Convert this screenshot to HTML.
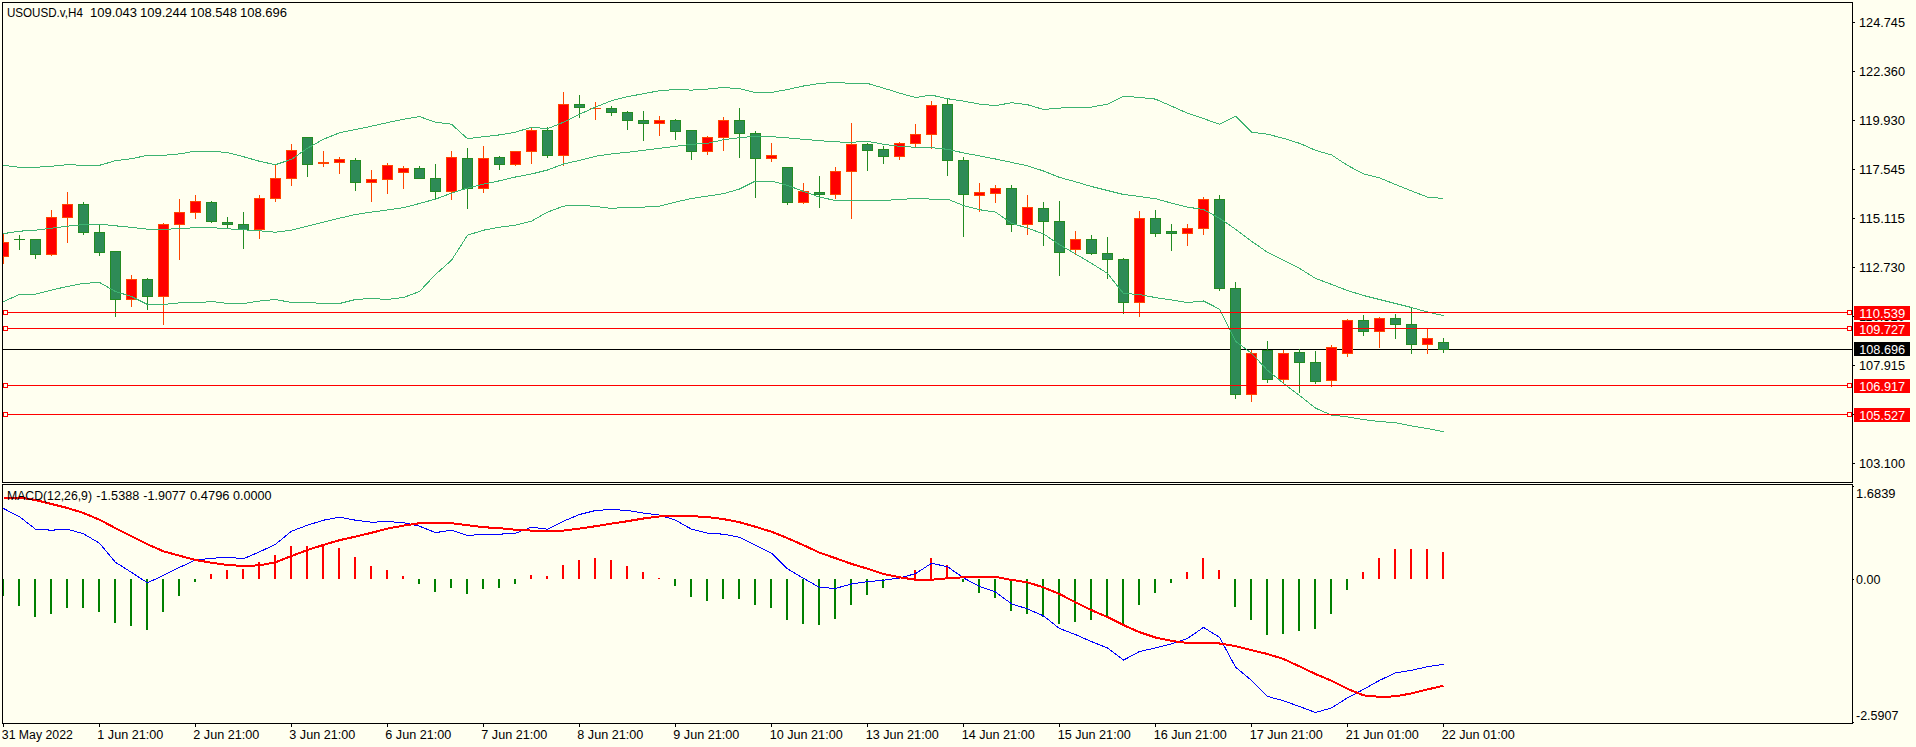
<!DOCTYPE html><html><head><meta charset="utf-8"><title>USOUSD.v,H4</title>
<style>html,body{margin:0;padding:0;background:#FFFFF0;overflow:hidden}svg{display:block}text{font-family:"Liberation Sans",sans-serif;font-size:12.5px;fill:#000}</style></head><body>
<svg width="1916" height="747" viewBox="0 0 1916 747">
<rect width="1916" height="747" fill="#FFFFF0"/>
<defs><clipPath id="cm"><rect x="3" y="3" width="1849" height="479"/></clipPath><clipPath id="ci"><rect x="3" y="485" width="1849" height="238"/></clipPath></defs>
<g clip-path="url(#cm)" shape-rendering="crispEdges">
<rect x="3" y="349" width="1849" height="1" fill="#000"/>
<rect x="3" y="234" width="1" height="30" fill="#FF4500"/>
<rect x="-2" y="242" width="11" height="15" fill="#FF4500"/>
<rect x="-1" y="243" width="9" height="13" fill="#FF0000"/>
<rect x="19" y="235" width="1" height="15" fill="#228B22"/>
<rect x="14" y="239" width="11" height="1" fill="#228B22"/>
<rect x="35" y="239" width="1" height="20" fill="#228B22"/>
<rect x="30" y="239" width="11" height="16" fill="#228B22"/>
<rect x="31" y="240" width="9" height="14" fill="#2E8B57"/>
<rect x="51" y="210" width="1" height="46" fill="#FF4500"/>
<rect x="46" y="217" width="11" height="38" fill="#FF4500"/>
<rect x="47" y="218" width="9" height="36" fill="#FF0000"/>
<rect x="67" y="192" width="1" height="51" fill="#FF4500"/>
<rect x="62" y="204" width="11" height="14" fill="#FF4500"/>
<rect x="63" y="205" width="9" height="12" fill="#FF0000"/>
<rect x="83" y="202" width="1" height="33" fill="#228B22"/>
<rect x="78" y="204" width="11" height="29" fill="#228B22"/>
<rect x="79" y="205" width="9" height="27" fill="#2E8B57"/>
<rect x="99" y="225" width="1" height="31" fill="#228B22"/>
<rect x="94" y="232" width="11" height="21" fill="#228B22"/>
<rect x="95" y="233" width="9" height="19" fill="#2E8B57"/>
<rect x="115" y="251" width="1" height="66" fill="#228B22"/>
<rect x="110" y="251" width="11" height="49" fill="#228B22"/>
<rect x="111" y="252" width="9" height="47" fill="#2E8B57"/>
<rect x="131" y="275" width="1" height="32" fill="#FF4500"/>
<rect x="126" y="279" width="11" height="21" fill="#FF4500"/>
<rect x="127" y="280" width="9" height="19" fill="#FF0000"/>
<rect x="147" y="278" width="1" height="32" fill="#228B22"/>
<rect x="142" y="279" width="11" height="18" fill="#228B22"/>
<rect x="143" y="280" width="9" height="16" fill="#2E8B57"/>
<rect x="163" y="223" width="1" height="102" fill="#FF4500"/>
<rect x="158" y="224" width="11" height="73" fill="#FF4500"/>
<rect x="159" y="225" width="9" height="71" fill="#FF0000"/>
<rect x="179" y="199" width="1" height="61" fill="#FF4500"/>
<rect x="174" y="212" width="11" height="13" fill="#FF4500"/>
<rect x="175" y="213" width="9" height="11" fill="#FF0000"/>
<rect x="195" y="195" width="1" height="24" fill="#FF4500"/>
<rect x="190" y="201" width="11" height="12" fill="#FF4500"/>
<rect x="191" y="202" width="9" height="10" fill="#FF0000"/>
<rect x="211" y="201" width="1" height="22" fill="#228B22"/>
<rect x="206" y="202" width="11" height="20" fill="#228B22"/>
<rect x="207" y="203" width="9" height="18" fill="#2E8B57"/>
<rect x="227" y="217" width="1" height="11" fill="#228B22"/>
<rect x="222" y="222" width="11" height="3" fill="#228B22"/>
<rect x="223" y="223" width="9" height="1" fill="#2E8B57"/>
<rect x="243" y="212" width="1" height="37" fill="#228B22"/>
<rect x="238" y="224" width="11" height="6" fill="#228B22"/>
<rect x="239" y="225" width="9" height="4" fill="#2E8B57"/>
<rect x="259" y="195" width="1" height="44" fill="#FF4500"/>
<rect x="254" y="198" width="11" height="32" fill="#FF4500"/>
<rect x="255" y="199" width="9" height="30" fill="#FF0000"/>
<rect x="275" y="165" width="1" height="37" fill="#FF4500"/>
<rect x="270" y="178" width="11" height="21" fill="#FF4500"/>
<rect x="271" y="179" width="9" height="19" fill="#FF0000"/>
<rect x="291" y="144" width="1" height="42" fill="#FF4500"/>
<rect x="286" y="150" width="11" height="29" fill="#FF4500"/>
<rect x="287" y="151" width="9" height="27" fill="#FF0000"/>
<rect x="307" y="137" width="1" height="40" fill="#228B22"/>
<rect x="302" y="137" width="11" height="28" fill="#228B22"/>
<rect x="303" y="138" width="9" height="26" fill="#2E8B57"/>
<rect x="323" y="151" width="1" height="16" fill="#FF4500"/>
<rect x="318" y="162" width="11" height="2" fill="#FF4500"/>
<rect x="339" y="157" width="1" height="17" fill="#FF4500"/>
<rect x="334" y="159" width="11" height="4" fill="#FF4500"/>
<rect x="335" y="160" width="9" height="2" fill="#FF0000"/>
<rect x="355" y="158" width="1" height="33" fill="#228B22"/>
<rect x="350" y="160" width="11" height="23" fill="#228B22"/>
<rect x="351" y="161" width="9" height="21" fill="#2E8B57"/>
<rect x="371" y="170" width="1" height="32" fill="#FF4500"/>
<rect x="366" y="179" width="11" height="4" fill="#FF4500"/>
<rect x="367" y="180" width="9" height="2" fill="#FF0000"/>
<rect x="387" y="163" width="1" height="31" fill="#FF4500"/>
<rect x="382" y="165" width="11" height="15" fill="#FF4500"/>
<rect x="383" y="166" width="9" height="13" fill="#FF0000"/>
<rect x="403" y="166" width="1" height="23" fill="#FF4500"/>
<rect x="398" y="168" width="11" height="5" fill="#FF4500"/>
<rect x="399" y="169" width="9" height="3" fill="#FF0000"/>
<rect x="419" y="166" width="1" height="13" fill="#228B22"/>
<rect x="414" y="168" width="11" height="11" fill="#228B22"/>
<rect x="415" y="169" width="9" height="9" fill="#2E8B57"/>
<rect x="435" y="164" width="1" height="36" fill="#228B22"/>
<rect x="430" y="178" width="11" height="14" fill="#228B22"/>
<rect x="431" y="179" width="9" height="12" fill="#2E8B57"/>
<rect x="451" y="151" width="1" height="49" fill="#FF4500"/>
<rect x="446" y="157" width="11" height="35" fill="#FF4500"/>
<rect x="447" y="158" width="9" height="33" fill="#FF0000"/>
<rect x="467" y="148" width="1" height="61" fill="#228B22"/>
<rect x="462" y="158" width="11" height="31" fill="#228B22"/>
<rect x="463" y="159" width="9" height="29" fill="#2E8B57"/>
<rect x="483" y="146" width="1" height="47" fill="#FF4500"/>
<rect x="478" y="158" width="11" height="31" fill="#FF4500"/>
<rect x="479" y="159" width="9" height="29" fill="#FF0000"/>
<rect x="499" y="156" width="1" height="14" fill="#228B22"/>
<rect x="494" y="157" width="11" height="8" fill="#228B22"/>
<rect x="495" y="158" width="9" height="6" fill="#2E8B57"/>
<rect x="515" y="151" width="1" height="15" fill="#FF4500"/>
<rect x="510" y="151" width="11" height="14" fill="#FF4500"/>
<rect x="511" y="152" width="9" height="12" fill="#FF0000"/>
<rect x="531" y="127" width="1" height="37" fill="#FF4500"/>
<rect x="526" y="130" width="11" height="22" fill="#FF4500"/>
<rect x="527" y="131" width="9" height="20" fill="#FF0000"/>
<rect x="547" y="127" width="1" height="31" fill="#228B22"/>
<rect x="542" y="130" width="11" height="26" fill="#228B22"/>
<rect x="543" y="131" width="9" height="24" fill="#2E8B57"/>
<rect x="563" y="92" width="1" height="74" fill="#FF4500"/>
<rect x="558" y="104" width="11" height="52" fill="#FF4500"/>
<rect x="559" y="105" width="9" height="50" fill="#FF0000"/>
<rect x="579" y="95" width="1" height="23" fill="#228B22"/>
<rect x="574" y="104" width="11" height="4" fill="#228B22"/>
<rect x="575" y="105" width="9" height="2" fill="#2E8B57"/>
<rect x="595" y="102" width="1" height="18" fill="#FF4500"/>
<rect x="590" y="108" width="11" height="1" fill="#FF4500"/>
<rect x="611" y="106" width="1" height="10" fill="#228B22"/>
<rect x="606" y="108" width="11" height="5" fill="#228B22"/>
<rect x="607" y="109" width="9" height="3" fill="#2E8B57"/>
<rect x="627" y="111" width="1" height="19" fill="#228B22"/>
<rect x="622" y="112" width="11" height="9" fill="#228B22"/>
<rect x="623" y="113" width="9" height="7" fill="#2E8B57"/>
<rect x="643" y="111" width="1" height="30" fill="#228B22"/>
<rect x="638" y="120" width="11" height="4" fill="#228B22"/>
<rect x="639" y="121" width="9" height="2" fill="#2E8B57"/>
<rect x="659" y="116" width="1" height="20" fill="#FF4500"/>
<rect x="654" y="120" width="11" height="4" fill="#FF4500"/>
<rect x="655" y="121" width="9" height="2" fill="#FF0000"/>
<rect x="675" y="119" width="1" height="21" fill="#228B22"/>
<rect x="670" y="120" width="11" height="12" fill="#228B22"/>
<rect x="671" y="121" width="9" height="10" fill="#2E8B57"/>
<rect x="691" y="130" width="1" height="30" fill="#228B22"/>
<rect x="686" y="130" width="11" height="22" fill="#228B22"/>
<rect x="687" y="131" width="9" height="20" fill="#2E8B57"/>
<rect x="707" y="136" width="1" height="19" fill="#FF4500"/>
<rect x="702" y="137" width="11" height="15" fill="#FF4500"/>
<rect x="703" y="138" width="9" height="13" fill="#FF0000"/>
<rect x="723" y="117" width="1" height="34" fill="#FF4500"/>
<rect x="718" y="120" width="11" height="18" fill="#FF4500"/>
<rect x="719" y="121" width="9" height="16" fill="#FF0000"/>
<rect x="739" y="108" width="1" height="50" fill="#228B22"/>
<rect x="734" y="120" width="11" height="14" fill="#228B22"/>
<rect x="735" y="121" width="9" height="12" fill="#2E8B57"/>
<rect x="755" y="131" width="1" height="67" fill="#228B22"/>
<rect x="750" y="133" width="11" height="26" fill="#228B22"/>
<rect x="751" y="134" width="9" height="24" fill="#2E8B57"/>
<rect x="771" y="143" width="1" height="19" fill="#FF4500"/>
<rect x="766" y="155" width="11" height="4" fill="#FF4500"/>
<rect x="767" y="156" width="9" height="2" fill="#FF0000"/>
<rect x="787" y="167" width="1" height="38" fill="#228B22"/>
<rect x="782" y="167" width="11" height="36" fill="#228B22"/>
<rect x="783" y="168" width="9" height="34" fill="#2E8B57"/>
<rect x="803" y="183" width="1" height="21" fill="#FF4500"/>
<rect x="798" y="191" width="11" height="12" fill="#FF4500"/>
<rect x="799" y="192" width="9" height="10" fill="#FF0000"/>
<rect x="819" y="176" width="1" height="32" fill="#228B22"/>
<rect x="814" y="192" width="11" height="3" fill="#228B22"/>
<rect x="815" y="193" width="9" height="1" fill="#2E8B57"/>
<rect x="835" y="167" width="1" height="32" fill="#FF4500"/>
<rect x="830" y="171" width="11" height="24" fill="#FF4500"/>
<rect x="831" y="172" width="9" height="22" fill="#FF0000"/>
<rect x="851" y="123" width="1" height="96" fill="#FF4500"/>
<rect x="846" y="144" width="11" height="28" fill="#FF4500"/>
<rect x="847" y="145" width="9" height="26" fill="#FF0000"/>
<rect x="867" y="143" width="1" height="28" fill="#228B22"/>
<rect x="862" y="144" width="11" height="7" fill="#228B22"/>
<rect x="863" y="145" width="9" height="5" fill="#2E8B57"/>
<rect x="883" y="146" width="1" height="18" fill="#228B22"/>
<rect x="878" y="149" width="11" height="8" fill="#228B22"/>
<rect x="879" y="150" width="9" height="6" fill="#2E8B57"/>
<rect x="899" y="142" width="1" height="18" fill="#FF4500"/>
<rect x="894" y="143" width="11" height="14" fill="#FF4500"/>
<rect x="895" y="144" width="9" height="12" fill="#FF0000"/>
<rect x="915" y="124" width="1" height="23" fill="#FF4500"/>
<rect x="910" y="134" width="11" height="10" fill="#FF4500"/>
<rect x="911" y="135" width="9" height="8" fill="#FF0000"/>
<rect x="931" y="101" width="1" height="48" fill="#FF4500"/>
<rect x="926" y="105" width="11" height="30" fill="#FF4500"/>
<rect x="927" y="106" width="9" height="28" fill="#FF0000"/>
<rect x="947" y="99" width="1" height="77" fill="#228B22"/>
<rect x="942" y="104" width="11" height="57" fill="#228B22"/>
<rect x="943" y="105" width="9" height="55" fill="#2E8B57"/>
<rect x="963" y="157" width="1" height="80" fill="#228B22"/>
<rect x="958" y="160" width="11" height="35" fill="#228B22"/>
<rect x="959" y="161" width="9" height="33" fill="#2E8B57"/>
<rect x="979" y="183" width="1" height="29" fill="#FF4500"/>
<rect x="974" y="192" width="11" height="4" fill="#FF4500"/>
<rect x="975" y="193" width="9" height="2" fill="#FF0000"/>
<rect x="995" y="185" width="1" height="18" fill="#FF4500"/>
<rect x="990" y="188" width="11" height="6" fill="#FF4500"/>
<rect x="991" y="189" width="9" height="4" fill="#FF0000"/>
<rect x="1011" y="185" width="1" height="47" fill="#228B22"/>
<rect x="1006" y="188" width="11" height="37" fill="#228B22"/>
<rect x="1007" y="189" width="9" height="35" fill="#2E8B57"/>
<rect x="1027" y="195" width="1" height="40" fill="#FF4500"/>
<rect x="1022" y="207" width="11" height="18" fill="#FF4500"/>
<rect x="1023" y="208" width="9" height="16" fill="#FF0000"/>
<rect x="1043" y="202" width="1" height="44" fill="#228B22"/>
<rect x="1038" y="208" width="11" height="14" fill="#228B22"/>
<rect x="1039" y="209" width="9" height="12" fill="#2E8B57"/>
<rect x="1059" y="201" width="1" height="75" fill="#228B22"/>
<rect x="1054" y="221" width="11" height="32" fill="#228B22"/>
<rect x="1055" y="222" width="9" height="30" fill="#2E8B57"/>
<rect x="1075" y="231" width="1" height="24" fill="#FF4500"/>
<rect x="1070" y="239" width="11" height="11" fill="#FF4500"/>
<rect x="1071" y="240" width="9" height="9" fill="#FF0000"/>
<rect x="1091" y="235" width="1" height="20" fill="#228B22"/>
<rect x="1086" y="239" width="11" height="15" fill="#228B22"/>
<rect x="1087" y="240" width="9" height="13" fill="#2E8B57"/>
<rect x="1107" y="237" width="1" height="42" fill="#228B22"/>
<rect x="1102" y="253" width="11" height="7" fill="#228B22"/>
<rect x="1103" y="254" width="9" height="5" fill="#2E8B57"/>
<rect x="1123" y="258" width="1" height="56" fill="#228B22"/>
<rect x="1118" y="259" width="11" height="44" fill="#228B22"/>
<rect x="1119" y="260" width="9" height="42" fill="#2E8B57"/>
<rect x="1139" y="211" width="1" height="106" fill="#FF4500"/>
<rect x="1134" y="218" width="11" height="85" fill="#FF4500"/>
<rect x="1135" y="219" width="9" height="83" fill="#FF0000"/>
<rect x="1155" y="210" width="1" height="27" fill="#228B22"/>
<rect x="1150" y="218" width="11" height="16" fill="#228B22"/>
<rect x="1151" y="219" width="9" height="14" fill="#2E8B57"/>
<rect x="1171" y="224" width="1" height="27" fill="#228B22"/>
<rect x="1166" y="231" width="11" height="3" fill="#228B22"/>
<rect x="1167" y="232" width="9" height="1" fill="#2E8B57"/>
<rect x="1187" y="224" width="1" height="22" fill="#FF4500"/>
<rect x="1182" y="228" width="11" height="6" fill="#FF4500"/>
<rect x="1183" y="229" width="9" height="4" fill="#FF0000"/>
<rect x="1203" y="197" width="1" height="38" fill="#FF4500"/>
<rect x="1198" y="199" width="11" height="30" fill="#FF4500"/>
<rect x="1199" y="200" width="9" height="28" fill="#FF0000"/>
<rect x="1219" y="195" width="1" height="96" fill="#228B22"/>
<rect x="1214" y="199" width="11" height="90" fill="#228B22"/>
<rect x="1215" y="200" width="9" height="88" fill="#2E8B57"/>
<rect x="1235" y="282" width="1" height="117" fill="#228B22"/>
<rect x="1230" y="288" width="11" height="107" fill="#228B22"/>
<rect x="1231" y="289" width="9" height="105" fill="#2E8B57"/>
<rect x="1251" y="350" width="1" height="52" fill="#FF4500"/>
<rect x="1246" y="353" width="11" height="42" fill="#FF4500"/>
<rect x="1247" y="354" width="9" height="40" fill="#FF0000"/>
<rect x="1267" y="341" width="1" height="42" fill="#228B22"/>
<rect x="1262" y="350" width="11" height="30" fill="#228B22"/>
<rect x="1263" y="351" width="9" height="28" fill="#2E8B57"/>
<rect x="1283" y="350" width="1" height="34" fill="#FF4500"/>
<rect x="1278" y="353" width="11" height="27" fill="#FF4500"/>
<rect x="1279" y="354" width="9" height="25" fill="#FF0000"/>
<rect x="1299" y="349" width="1" height="44" fill="#228B22"/>
<rect x="1294" y="352" width="11" height="11" fill="#228B22"/>
<rect x="1295" y="353" width="9" height="9" fill="#2E8B57"/>
<rect x="1315" y="351" width="1" height="33" fill="#228B22"/>
<rect x="1310" y="362" width="11" height="20" fill="#228B22"/>
<rect x="1311" y="363" width="9" height="18" fill="#2E8B57"/>
<rect x="1331" y="345" width="1" height="42" fill="#FF4500"/>
<rect x="1326" y="347" width="11" height="34" fill="#FF4500"/>
<rect x="1327" y="348" width="9" height="32" fill="#FF0000"/>
<rect x="1347" y="319" width="1" height="38" fill="#FF4500"/>
<rect x="1342" y="320" width="11" height="34" fill="#FF4500"/>
<rect x="1343" y="321" width="9" height="32" fill="#FF0000"/>
<rect x="1363" y="315" width="1" height="21" fill="#228B22"/>
<rect x="1358" y="320" width="11" height="12" fill="#228B22"/>
<rect x="1359" y="321" width="9" height="10" fill="#2E8B57"/>
<rect x="1379" y="317" width="1" height="31" fill="#FF4500"/>
<rect x="1374" y="318" width="11" height="14" fill="#FF4500"/>
<rect x="1375" y="319" width="9" height="12" fill="#FF0000"/>
<rect x="1395" y="314" width="1" height="25" fill="#228B22"/>
<rect x="1390" y="318" width="11" height="7" fill="#228B22"/>
<rect x="1391" y="319" width="9" height="5" fill="#2E8B57"/>
<rect x="1411" y="307" width="1" height="47" fill="#228B22"/>
<rect x="1406" y="324" width="11" height="21" fill="#228B22"/>
<rect x="1407" y="325" width="9" height="19" fill="#2E8B57"/>
<rect x="1427" y="329" width="1" height="25" fill="#FF4500"/>
<rect x="1422" y="338" width="11" height="7" fill="#FF4500"/>
<rect x="1423" y="339" width="9" height="5" fill="#FF0000"/>
<rect x="1443" y="338" width="1" height="15" fill="#228B22"/>
<rect x="1438" y="342" width="11" height="8" fill="#228B22"/>
<rect x="1439" y="343" width="9" height="6" fill="#2E8B57"/>
<polyline points="3.5,165.3 19.5,167.3 35.5,167.3 51.5,166.3 67.5,164.7 83.5,165.3 99.5,165.3 115.5,160.7 131.5,158.7 147.5,155.3 163.5,155.3 179.5,153.9 195.5,151.1 211.5,151.1 227.5,152.7 243.5,156.7 259.5,161.3 275.5,164.7 291.5,159.3 307.5,148.2 323.5,139.2 339.5,132.8 355.5,129.6 371.5,126.2 387.5,122.6 403.5,119.2 419.5,116.6 435.5,122.2 451.5,124.2 467.5,138.7 483.5,136.7 499.5,134.9 515.5,132.2 531.5,127.2 547.5,128.8 563.5,122.2 579.5,114.2 595.5,107.1 611.5,100.7 627.5,96.7 643.5,93.7 659.5,90.7 675.5,89.5 691.5,90.1 707.5,89.1 723.5,87.5 739.5,88.7 755.5,92.7 771.5,92.5 787.5,89.5 803.5,86.0 819.5,83.4 835.5,82.4 851.5,83.4 867.5,83.4 883.5,88.1 899.5,93.1 915.5,97.5 931.5,95.1 947.5,98.7 963.5,101.1 979.5,104.1 995.5,105.7 1011.5,102.7 1027.5,104.7 1043.5,109.5 1059.5,108.1 1075.5,107.1 1091.5,107.1 1107.5,104.1 1123.5,96.1 1139.5,97.5 1155.5,99.1 1171.5,106.1 1187.5,113.2 1203.5,118.6 1219.5,124.2 1235.5,116.2 1251.5,132.2 1267.5,134.2 1283.5,138.3 1299.5,143.3 1315.5,150.3 1331.5,154.9 1347.5,165.4 1363.5,173.8 1379.5,177.8 1395.5,184.5 1411.5,190.9 1427.5,197.1 1443.5,198.5" fill="none" stroke="#3CB371" stroke-width="1" stroke-linejoin="round"/>
<polyline points="3.5,233.6 19.5,231.2 35.5,230.2 51.5,228.2 67.5,226.2 83.5,224.6 99.5,224.2 115.5,225.8 131.5,227.4 147.5,229.2 163.5,229.2 179.5,228.8 195.5,227.6 211.5,227.6 227.5,228.8 243.5,229.8 259.5,230.8 275.5,232.2 291.5,230.2 307.5,226.2 323.5,222.2 339.5,218.2 355.5,214.5 371.5,212.1 387.5,210.0 403.5,207.6 419.5,203.5 435.5,199.1 451.5,193.1 467.5,188.1 483.5,184.1 499.5,180.8 515.5,177.0 531.5,174.0 547.5,170.0 563.5,164.0 579.5,160.4 595.5,156.3 611.5,153.9 627.5,152.3 643.5,150.3 659.5,148.3 675.5,146.3 691.5,144.3 707.5,143.3 723.5,139.7 739.5,137.7 755.5,136.3 771.5,136.7 787.5,137.9 803.5,139.3 819.5,140.7 835.5,141.9 851.5,142.3 867.5,141.3 883.5,144.3 899.5,146.3 915.5,147.3 931.5,147.7 947.5,149.3 963.5,152.9 979.5,155.9 995.5,159.0 1011.5,162.4 1027.5,165.8 1043.5,171.0 1059.5,177.4 1075.5,181.8 1091.5,186.5 1107.5,190.5 1123.5,194.5 1139.5,196.5 1155.5,198.7 1171.5,203.1 1187.5,207.1 1203.5,209.5 1219.5,218.2 1235.5,229.2 1251.5,241.3 1267.5,252.3 1283.5,260.3 1299.5,268.4 1315.5,278.4 1331.5,284.4 1347.5,290.5 1363.5,295.5 1379.5,299.5 1395.5,303.5 1411.5,307.5 1427.5,312.0 1443.5,315.6" fill="none" stroke="#3CB371" stroke-width="1" stroke-linejoin="round"/>
<polyline points="3.5,301.5 19.5,294.5 35.5,294.1 51.5,290.1 67.5,286.4 83.5,283.4 99.5,282.4 115.5,291.5 131.5,296.5 147.5,304.5 163.5,304.5 179.5,302.9 195.5,302.9 211.5,301.5 227.5,303.5 243.5,303.5 259.5,301.1 275.5,299.5 291.5,302.5 307.5,302.5 323.5,303.5 339.5,303.5 355.5,299.5 371.5,298.5 387.5,299.5 403.5,297.5 419.5,291.5 435.5,274.4 451.5,260.3 467.5,235.2 483.5,230.2 499.5,227.2 515.5,225.2 531.5,221.2 547.5,212.1 563.5,206.1 579.5,205.1 595.5,206.5 611.5,208.5 627.5,207.1 643.5,207.1 659.5,206.1 675.5,202.1 691.5,198.5 707.5,196.1 723.5,193.7 739.5,189.0 755.5,181.0 771.5,181.0 787.5,185.4 803.5,191.4 819.5,197.1 835.5,200.5 851.5,200.5 867.5,200.5 883.5,200.5 899.5,199.5 915.5,198.5 931.5,199.1 947.5,199.1 963.5,205.5 979.5,209.7 995.5,212.1 1011.5,223.2 1027.5,228.2 1043.5,233.8 1059.5,244.7 1075.5,253.9 1091.5,263.4 1107.5,273.4 1123.5,293.5 1139.5,294.5 1155.5,297.6 1171.5,300.0 1187.5,302.5 1203.5,301.0 1219.5,309.1 1235.5,341.2 1251.5,353.3 1267.5,370.3 1283.5,383.4 1299.5,395.4 1315.5,408.1 1331.5,415.1 1347.5,416.9 1363.5,419.5 1379.5,421.6 1395.5,422.6 1411.5,426.0 1427.5,428.6 1443.5,431.6" fill="none" stroke="#3CB371" stroke-width="1" stroke-linejoin="round"/>
<rect x="3" y="312" width="1849" height="1" fill="#FF0000"/>
<rect x="3.5" y="310.5" width="4" height="4" fill="#FFFFF0" stroke="#FF0000" stroke-width="1"/>
<rect x="1847.5" y="310.5" width="4" height="4" fill="#FFFFF0" stroke="#FF0000" stroke-width="1"/>
<rect x="3" y="328" width="1849" height="1" fill="#FF0000"/>
<rect x="3.5" y="326.5" width="4" height="4" fill="#FFFFF0" stroke="#FF0000" stroke-width="1"/>
<rect x="1847.5" y="326.5" width="4" height="4" fill="#FFFFF0" stroke="#FF0000" stroke-width="1"/>
<rect x="3" y="385" width="1849" height="1" fill="#FF0000"/>
<rect x="3.5" y="383.5" width="4" height="4" fill="#FFFFF0" stroke="#FF0000" stroke-width="1"/>
<rect x="1847.5" y="383.5" width="4" height="4" fill="#FFFFF0" stroke="#FF0000" stroke-width="1"/>
<rect x="3" y="414" width="1849" height="1" fill="#FF0000"/>
<rect x="3.5" y="412.5" width="4" height="4" fill="#FFFFF0" stroke="#FF0000" stroke-width="1"/>
<rect x="1847.5" y="412.5" width="4" height="4" fill="#FFFFF0" stroke="#FF0000" stroke-width="1"/>
</g>
<g clip-path="url(#ci)" shape-rendering="crispEdges">
<rect x="2" y="579" width="2" height="17" fill="#008000"/>
<rect x="18" y="579" width="2" height="27" fill="#008000"/>
<rect x="34" y="579" width="2" height="38" fill="#008000"/>
<rect x="50" y="579" width="2" height="35" fill="#008000"/>
<rect x="66" y="579" width="2" height="29" fill="#008000"/>
<rect x="82" y="579" width="2" height="29" fill="#008000"/>
<rect x="98" y="579" width="2" height="33" fill="#008000"/>
<rect x="114" y="579" width="2" height="44" fill="#008000"/>
<rect x="130" y="579" width="2" height="47" fill="#008000"/>
<rect x="146" y="579" width="2" height="51" fill="#008000"/>
<rect x="162" y="579" width="2" height="33" fill="#008000"/>
<rect x="178" y="579" width="2" height="17" fill="#008000"/>
<rect x="194" y="579" width="2" height="3" fill="#008000"/>
<rect x="210" y="574" width="2" height="5" fill="#FF0000"/>
<rect x="226" y="570" width="2" height="9" fill="#FF0000"/>
<rect x="242" y="569" width="2" height="10" fill="#FF0000"/>
<rect x="258" y="562" width="2" height="17" fill="#FF0000"/>
<rect x="274" y="555" width="2" height="24" fill="#FF0000"/>
<rect x="290" y="546" width="2" height="33" fill="#FF0000"/>
<rect x="306" y="546" width="2" height="33" fill="#FF0000"/>
<rect x="322" y="546" width="2" height="33" fill="#FF0000"/>
<rect x="338" y="548" width="2" height="31" fill="#FF0000"/>
<rect x="354" y="557" width="2" height="22" fill="#FF0000"/>
<rect x="370" y="566" width="2" height="13" fill="#FF0000"/>
<rect x="386" y="570" width="2" height="9" fill="#FF0000"/>
<rect x="402" y="576" width="2" height="3" fill="#FF0000"/>
<rect x="418" y="579" width="2" height="5" fill="#008000"/>
<rect x="434" y="579" width="2" height="13" fill="#008000"/>
<rect x="450" y="579" width="2" height="9" fill="#008000"/>
<rect x="466" y="579" width="2" height="15" fill="#008000"/>
<rect x="482" y="579" width="2" height="10" fill="#008000"/>
<rect x="498" y="579" width="2" height="9" fill="#008000"/>
<rect x="514" y="579" width="2" height="5" fill="#008000"/>
<rect x="530" y="575" width="2" height="4" fill="#FF0000"/>
<rect x="546" y="576" width="2" height="3" fill="#FF0000"/>
<rect x="562" y="565" width="2" height="14" fill="#FF0000"/>
<rect x="578" y="560" width="2" height="19" fill="#FF0000"/>
<rect x="594" y="558" width="2" height="21" fill="#FF0000"/>
<rect x="610" y="560" width="2" height="19" fill="#FF0000"/>
<rect x="626" y="566" width="2" height="13" fill="#FF0000"/>
<rect x="642" y="572" width="2" height="7" fill="#FF0000"/>
<rect x="658" y="578" width="2" height="1" fill="#FF0000"/>
<rect x="674" y="579" width="2" height="7" fill="#008000"/>
<rect x="690" y="579" width="2" height="18" fill="#008000"/>
<rect x="706" y="579" width="2" height="22" fill="#008000"/>
<rect x="722" y="579" width="2" height="20" fill="#008000"/>
<rect x="738" y="579" width="2" height="20" fill="#008000"/>
<rect x="754" y="579" width="2" height="26" fill="#008000"/>
<rect x="770" y="579" width="2" height="29" fill="#008000"/>
<rect x="786" y="579" width="2" height="41" fill="#008000"/>
<rect x="802" y="579" width="2" height="45" fill="#008000"/>
<rect x="818" y="579" width="2" height="46" fill="#008000"/>
<rect x="834" y="579" width="2" height="40" fill="#008000"/>
<rect x="850" y="579" width="2" height="26" fill="#008000"/>
<rect x="866" y="579" width="2" height="16" fill="#008000"/>
<rect x="882" y="579" width="2" height="9" fill="#008000"/>
<rect x="898" y="578" width="2" height="1" fill="#FF0000"/>
<rect x="914" y="570" width="2" height="9" fill="#FF0000"/>
<rect x="930" y="558" width="2" height="21" fill="#FF0000"/>
<rect x="946" y="565" width="2" height="14" fill="#FF0000"/>
<rect x="962" y="579" width="2" height="3" fill="#008000"/>
<rect x="978" y="579" width="2" height="14" fill="#008000"/>
<rect x="994" y="579" width="2" height="19" fill="#008000"/>
<rect x="1010" y="579" width="2" height="32" fill="#008000"/>
<rect x="1026" y="579" width="2" height="35" fill="#008000"/>
<rect x="1042" y="579" width="2" height="38" fill="#008000"/>
<rect x="1058" y="579" width="2" height="45" fill="#008000"/>
<rect x="1074" y="579" width="2" height="43" fill="#008000"/>
<rect x="1090" y="579" width="2" height="41" fill="#008000"/>
<rect x="1106" y="579" width="2" height="39" fill="#008000"/>
<rect x="1122" y="579" width="2" height="46" fill="#008000"/>
<rect x="1138" y="579" width="2" height="26" fill="#008000"/>
<rect x="1154" y="579" width="2" height="14" fill="#008000"/>
<rect x="1170" y="579" width="2" height="4" fill="#008000"/>
<rect x="1186" y="572" width="2" height="7" fill="#FF0000"/>
<rect x="1202" y="558" width="2" height="21" fill="#FF0000"/>
<rect x="1218" y="570" width="2" height="9" fill="#FF0000"/>
<rect x="1234" y="579" width="2" height="28" fill="#008000"/>
<rect x="1250" y="579" width="2" height="41" fill="#008000"/>
<rect x="1266" y="579" width="2" height="56" fill="#008000"/>
<rect x="1282" y="579" width="2" height="55" fill="#008000"/>
<rect x="1298" y="579" width="2" height="52" fill="#008000"/>
<rect x="1314" y="579" width="2" height="50" fill="#008000"/>
<rect x="1330" y="579" width="2" height="35" fill="#008000"/>
<rect x="1346" y="579" width="2" height="11" fill="#008000"/>
<rect x="1362" y="572" width="2" height="7" fill="#FF0000"/>
<rect x="1378" y="558" width="2" height="21" fill="#FF0000"/>
<rect x="1394" y="549" width="2" height="30" fill="#FF0000"/>
<rect x="1410" y="549" width="2" height="30" fill="#FF0000"/>
<rect x="1426" y="549" width="2" height="30" fill="#FF0000"/>
<rect x="1442" y="552" width="2" height="27" fill="#FF0000"/>
<polyline points="3.5,508.5 19.5,516.7 35.5,529.2 51.5,530.2 67.5,529.2 83.5,533.8 99.5,543.2 115.5,562.3 131.5,572.4 147.5,582.8 163.5,575.4 179.5,567.4 195.5,560.0 211.5,558.3 227.5,557.3 243.5,558.7 259.5,551.9 275.5,544.3 291.5,531.2 307.5,525.2 323.5,520.2 339.5,517.1 355.5,520.2 371.5,522.2 387.5,521.6 403.5,522.6 419.5,526.2 435.5,532.6 451.5,530.2 467.5,535.6 483.5,534.2 499.5,534.2 515.5,533.2 531.5,527.2 547.5,529.2 563.5,521.2 579.5,514.5 595.5,510.5 611.5,509.5 627.5,510.5 643.5,513.1 659.5,515.1 675.5,520.2 691.5,529.2 707.5,533.2 723.5,534.2 739.5,537.2 755.5,545.3 771.5,553.2 787.5,568.9 803.5,578.3 819.5,587.4 835.5,588.4 851.5,584.0 867.5,581.7 883.5,580.3 899.5,577.9 915.5,573.7 931.5,563.3 947.5,566.7 963.5,577.9 979.5,586.4 995.5,592.0 1011.5,603.8 1027.5,608.9 1043.5,615.9 1059.5,628.5 1075.5,634.6 1091.5,641.6 1107.5,648.0 1123.5,660.1 1139.5,651.5 1155.5,647.9 1171.5,643.9 1187.5,638.5 1203.5,627.4 1219.5,637.3 1235.5,667.0 1251.5,680.5 1267.5,696.4 1283.5,700.8 1299.5,706.5 1315.5,712.5 1331.5,707.9 1347.5,697.8 1363.5,689.4 1379.5,680.4 1395.5,672.9 1411.5,670.3 1427.5,666.7 1443.5,664.3" fill="none" stroke="#0000FF" stroke-width="1" stroke-linejoin="round"/>
<polyline points="3.5,497.5 19.5,497.5 35.5,500.0 51.5,504.0 67.5,508.0 83.5,513.0 99.5,519.7 115.5,528.2 131.5,536.2 147.5,544.3 163.5,551.3 179.5,555.7 195.5,560.0 211.5,562.7 227.5,565.0 243.5,566.0 259.5,565.3 275.5,562.3 291.5,556.0 307.5,550.0 323.5,544.9 339.5,540.2 355.5,536.6 371.5,532.8 387.5,528.6 403.5,525.6 419.5,523.2 435.5,522.8 451.5,523.2 467.5,525.2 483.5,527.2 499.5,528.2 515.5,529.8 531.5,530.6 547.5,530.8 563.5,530.6 579.5,528.6 595.5,526.2 611.5,523.6 627.5,521.2 643.5,518.5 659.5,516.5 675.5,516.1 691.5,516.1 707.5,517.1 723.5,519.1 739.5,522.2 755.5,526.8 771.5,531.7 787.5,538.2 803.5,545.2 819.5,552.6 835.5,558.2 851.5,563.9 867.5,568.7 883.5,573.9 899.5,577.3 915.5,579.7 931.5,579.7 947.5,578.3 963.5,577.3 979.5,576.9 995.5,576.9 1011.5,579.9 1027.5,582.3 1043.5,587.4 1059.5,594.0 1075.5,602.4 1091.5,610.1 1107.5,617.1 1123.5,625.1 1139.5,632.2 1155.5,637.5 1171.5,640.9 1187.5,642.9 1203.5,643.1 1219.5,643.5 1235.5,646.1 1251.5,650.1 1267.5,654.0 1283.5,659.0 1299.5,666.4 1315.5,674.0 1331.5,680.7 1347.5,688.8 1363.5,695.4 1379.5,696.8 1395.5,696.4 1411.5,693.4 1427.5,689.4 1443.5,685.8" fill="none" stroke="#FF0000" stroke-width="2" stroke-linejoin="round"/>
</g>
<g shape-rendering="crispEdges" fill="#000">
<rect x="2" y="2" width="1851" height="1"/>
<rect x="2" y="2" width="1" height="481"/>
<rect x="1852" y="2" width="1" height="481"/>
<rect x="2" y="482" width="1851" height="1"/>
<rect x="2" y="484" width="1851" height="1"/>
<rect x="2" y="484" width="1" height="240"/>
<rect x="1852" y="484" width="1" height="240"/>
<rect x="2" y="723" width="1851" height="1"/>
<rect x="1853" y="22" width="2" height="1"/>
<rect x="1853" y="71" width="2" height="1"/>
<rect x="1853" y="120" width="2" height="1"/>
<rect x="1853" y="169" width="2" height="1"/>
<rect x="1853" y="218" width="2" height="1"/>
<rect x="1853" y="267" width="2" height="1"/>
<rect x="1853" y="316" width="2" height="1"/>
<rect x="1853" y="365" width="2" height="1"/>
<rect x="1853" y="414" width="2" height="1"/>
<rect x="1853" y="463" width="2" height="1"/>
<rect x="1853" y="486" width="1" height="1"/>
<rect x="1853" y="579" width="1" height="1"/>
<rect x="1853" y="722" width="1" height="1"/>
<rect x="3" y="724" width="1" height="3"/>
<rect x="99" y="724" width="1" height="3"/>
<rect x="195" y="724" width="1" height="3"/>
<rect x="291" y="724" width="1" height="3"/>
<rect x="387" y="724" width="1" height="3"/>
<rect x="483" y="724" width="1" height="3"/>
<rect x="579" y="724" width="1" height="3"/>
<rect x="675" y="724" width="1" height="3"/>
<rect x="771" y="724" width="1" height="3"/>
<rect x="867" y="724" width="1" height="3"/>
<rect x="963" y="724" width="1" height="3"/>
<rect x="1059" y="724" width="1" height="3"/>
<rect x="1155" y="724" width="1" height="3"/>
<rect x="1251" y="724" width="1" height="3"/>
<rect x="1347" y="724" width="1" height="3"/>
<rect x="1443" y="724" width="1" height="3"/>
</g>
<text x="1859" y="27" textLength="46" lengthAdjust="spacingAndGlyphs">124.745</text>
<text x="1859" y="76" textLength="46" lengthAdjust="spacingAndGlyphs">122.360</text>
<text x="1859" y="125" textLength="46" lengthAdjust="spacingAndGlyphs">119.930</text>
<text x="1859" y="174" textLength="46" lengthAdjust="spacingAndGlyphs">117.545</text>
<text x="1859" y="223" textLength="46" lengthAdjust="spacingAndGlyphs">115.115</text>
<text x="1859" y="272" textLength="46" lengthAdjust="spacingAndGlyphs">112.730</text>
<text x="1859" y="321" textLength="46" lengthAdjust="spacingAndGlyphs">110.320</text>
<text x="1859" y="370" textLength="46" lengthAdjust="spacingAndGlyphs">107.915</text>
<text x="1859" y="419" textLength="46" lengthAdjust="spacingAndGlyphs">105.510</text>
<text x="1859" y="468" textLength="46" lengthAdjust="spacingAndGlyphs">103.100</text>
<text x="1856" y="498" textLength="39.5" lengthAdjust="spacingAndGlyphs">1.6839</text>
<text x="1856" y="584">0.00</text>
<text x="1856" y="720">-2.5907</text>
<rect x="1854" y="306" width="56" height="14" fill="#FF0000" shape-rendering="crispEdges"/>
<text x="1859.2" y="318" textLength="46" lengthAdjust="spacingAndGlyphs" style="fill:#fff">110.539</text>
<rect x="1854" y="322" width="56" height="14" fill="#FF0000" shape-rendering="crispEdges"/>
<text x="1859.2" y="334" textLength="46" lengthAdjust="spacingAndGlyphs" style="fill:#fff">109.727</text>
<rect x="1854" y="342" width="56" height="14" fill="#000" shape-rendering="crispEdges"/>
<text x="1859.2" y="354" textLength="46" lengthAdjust="spacingAndGlyphs" style="fill:#fff">108.696</text>
<rect x="1854" y="379" width="56" height="14" fill="#FF0000" shape-rendering="crispEdges"/>
<text x="1859.2" y="391" textLength="46" lengthAdjust="spacingAndGlyphs" style="fill:#fff">106.917</text>
<rect x="1854" y="408" width="56" height="14" fill="#FF0000" shape-rendering="crispEdges"/>
<text x="1859.2" y="420" textLength="46" lengthAdjust="spacingAndGlyphs" style="fill:#fff">105.527</text>
<text x="6.9" y="17" textLength="76" lengthAdjust="spacingAndGlyphs">USOUSD.v,H4</text>
<text x="90" y="17" textLength="47" lengthAdjust="spacingAndGlyphs">109.043</text>
<text x="140" y="17" textLength="47" lengthAdjust="spacingAndGlyphs">109.244</text>
<text x="190" y="17" textLength="47" lengthAdjust="spacingAndGlyphs">108.548</text>
<text x="240" y="17" textLength="47" lengthAdjust="spacingAndGlyphs">108.696</text>
<text x="7" y="500" textLength="85" lengthAdjust="spacingAndGlyphs">MACD(12,26,9)</text>
<text x="96.3" y="500" textLength="43" lengthAdjust="spacingAndGlyphs">-1.5388</text>
<text x="143.3" y="500" textLength="42.5" lengthAdjust="spacingAndGlyphs">-1.9077</text>
<text x="190" y="500" textLength="39.5" lengthAdjust="spacingAndGlyphs">0.4796</text>
<text x="233" y="500" textLength="38.5" lengthAdjust="spacingAndGlyphs">0.0000</text>
<text x="1.8" y="739" textLength="71" lengthAdjust="spacingAndGlyphs">31 May 2022</text>
<text x="97.3" y="739" textLength="66" lengthAdjust="spacingAndGlyphs">1 Jun 21:00</text>
<text x="193.3" y="739" textLength="66" lengthAdjust="spacingAndGlyphs">2 Jun 21:00</text>
<text x="289.3" y="739" textLength="66" lengthAdjust="spacingAndGlyphs">3 Jun 21:00</text>
<text x="385.3" y="739" textLength="66" lengthAdjust="spacingAndGlyphs">6 Jun 21:00</text>
<text x="481.3" y="739" textLength="66" lengthAdjust="spacingAndGlyphs">7 Jun 21:00</text>
<text x="577.3" y="739" textLength="66" lengthAdjust="spacingAndGlyphs">8 Jun 21:00</text>
<text x="673.3" y="739" textLength="66" lengthAdjust="spacingAndGlyphs">9 Jun 21:00</text>
<text x="769.7" y="739" textLength="73" lengthAdjust="spacingAndGlyphs">10 Jun 21:00</text>
<text x="865.7" y="739" textLength="73" lengthAdjust="spacingAndGlyphs">13 Jun 21:00</text>
<text x="961.7" y="739" textLength="73" lengthAdjust="spacingAndGlyphs">14 Jun 21:00</text>
<text x="1057.7" y="739" textLength="73" lengthAdjust="spacingAndGlyphs">15 Jun 21:00</text>
<text x="1153.7" y="739" textLength="73" lengthAdjust="spacingAndGlyphs">16 Jun 21:00</text>
<text x="1249.7" y="739" textLength="73" lengthAdjust="spacingAndGlyphs">17 Jun 21:00</text>
<text x="1345.7" y="739" textLength="73" lengthAdjust="spacingAndGlyphs">21 Jun 01:00</text>
<text x="1441.7" y="739" textLength="73" lengthAdjust="spacingAndGlyphs">22 Jun 01:00</text>
</svg></body></html>
